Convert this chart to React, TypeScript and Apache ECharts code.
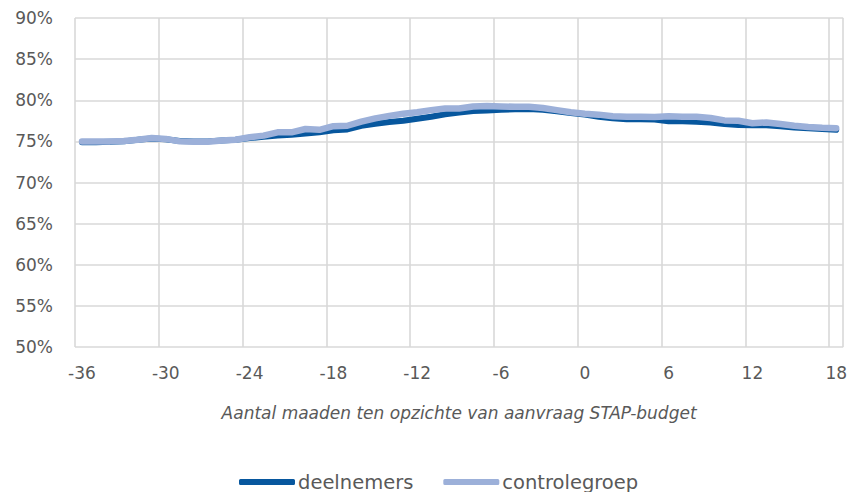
import React, { useEffect, useRef } from "react";
import * as echarts from "echarts";

const months = [
  -36, -35, -34, -33, -32, -31, -30, -29, -28, -27, -26, -25, -24, -23, -22, -21, -20, -19,
  -18, -17, -16, -15, -14, -13, -12, -11, -10, -9, -8, -7, -6, -5, -4, -3, -2, -1,
  0, 1, 2, 3, 4, 5, 6, 7, 8, 9, 10, 11, 12, 13, 14, 15, 16, 17, 18,
];

const deelnemers = [
  74.9, 74.9, 74.95, 75.0, 75.2, 75.35, 75.25, 75.05, 75.0, 75.0, 75.1, 75.2, 75.4, 75.55, 75.7, 75.8, 75.95, 76.1,
  76.35, 76.45, 76.9, 77.15, 77.35, 77.5, 77.75, 78.0, 78.3, 78.5, 78.7, 78.75, 78.85, 78.9, 78.95, 78.85, 78.65, 78.45,
  78.25, 78.0, 77.8, 77.7, 77.7, 77.65, 77.45, 77.45, 77.4, 77.3, 77.1, 77.0, 76.95, 76.95, 76.85, 76.7, 76.6, 76.5, 76.4,
];

const controlegroep = [
  75.0, 75.0, 75.0, 75.05, 75.2, 75.4, 75.3, 75.0, 74.95, 74.95, 75.1, 75.2, 75.5, 75.7, 76.1, 76.1, 76.5, 76.4,
  76.85, 76.9, 77.4, 77.8, 78.1, 78.35, 78.55, 78.8, 79.0, 79.0, 79.25, 79.3, 79.25, 79.2, 79.2, 79.05, 78.8, 78.55,
  78.35, 78.25, 78.05, 78.0, 78.0, 77.95, 78.05, 78.0, 78.0, 77.85, 77.55, 77.5, 77.2, 77.3, 77.1, 76.9, 76.75, 76.65, 76.6,
];

const seriesNames = ["deelnemers", "controlegroep"];
const xTitle = "Aantal maaden ten opzichte van aanvraag STAP-budget";

const FONT = "DejaVu Sans";
const TEXT = "#595959";
const GRID = "#d9d9d9";

export default function App() {
  const ref = useRef<HTMLDivElement>(null);
  useEffect(() => {
    if (!ref.current) return;
    const chart = echarts.init(ref.current, undefined, { renderer: "svg" });
    chart.setOption({
      animation: false,
      grid: { left: 75, right: 6, top: 18, bottom: 145, containLabel: false },
      legend: {
        data: seriesNames,
        left: 234,
        top: 467,
        icon: "roundRect",
        itemWidth: 56,
        itemHeight: 6,
        itemGap: 30,
        textStyle: { fontFamily: FONT, fontSize: 19.5, color: TEXT, padding: [0, 0, 0, -2] },
      },
      xAxis: {
        type: "category",
        data: months,
        boundaryGap: true,
        name: xTitle,
        nameLocation: "middle",
        nameGap: 57,
        nameTextStyle: { fontFamily: FONT, fontSize: 17, fontStyle: "italic", color: TEXT },
        axisLine: { show: false },
        axisTick: { show: false },
        axisLabel: {
          interval: 5,
          margin: 17,
          fontFamily: FONT,
          fontSize: 17,
          color: TEXT,
        },
        splitLine: { show: true, interval: 5, lineStyle: { color: GRID, width: 1.6 } },
      },
      yAxis: {
        type: "value",
        min: 50,
        max: 90,
        interval: 5,
        axisLine: { show: false },
        axisTick: { show: false },
        axisLabel: {
          margin: 22,
          fontFamily: FONT,
          fontSize: 17,
          color: TEXT,
          formatter: (v: number) => `${v}%`,
        },
        splitLine: { show: true, lineStyle: { color: GRID, width: 1.6 } },
      },
      series: [
        {
          name: seriesNames[0],
          type: "line",
          data: deelnemers,
          symbol: "none",
          color: "#07579e",
          lineStyle: { width: 6, color: "#07579e", cap: "round", join: "round" },
        },
        {
          name: seriesNames[1],
          type: "line",
          data: controlegroep,
          symbol: "none",
          color: "#9cb0d9",
          lineStyle: { width: 6.5, color: "#9cb0d9", cap: "round", join: "round" },
        },
      ],
    });
    return () => chart.dispose();
  }, []);
  return <div ref={ref} style={{ width: 850, height: 492, position: "absolute", left: 0, top: 0 }} />;
}
